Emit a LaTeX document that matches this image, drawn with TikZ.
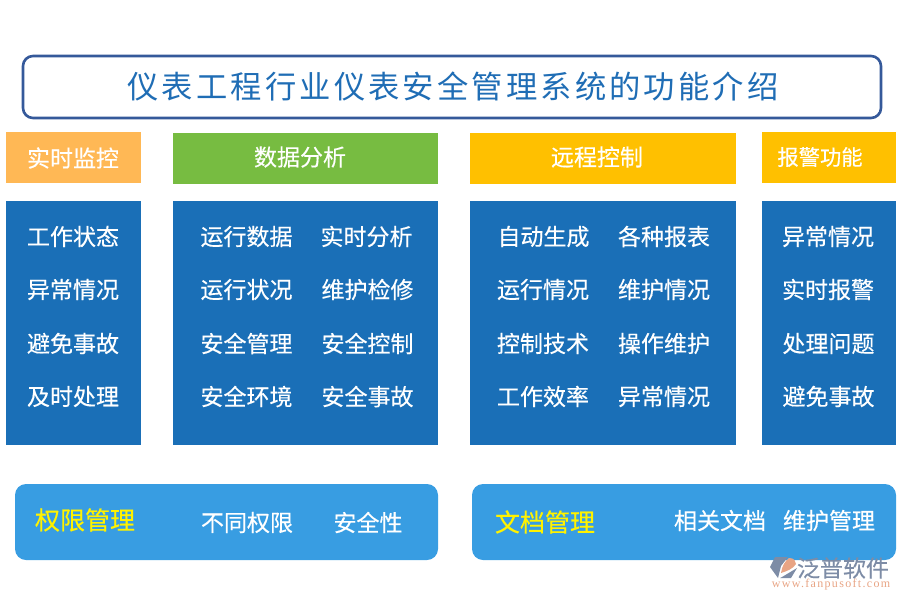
\documentclass[tikz,border=0pt]{standalone}
\usepackage{fontspec}
\setmainfont[FakeBold=0.35]{Noto Sans CJK SC}
\newfontfamily\plaincjk[FakeBold=0.3]{Noto Sans CJK SC}
\newfontfamily\titlecjk[LetterSpace=10]{Noto Sans CJK SC}
\newfontfamily\latinserif[LetterSpace=11]{Liberation Serif}
\definecolor{titleblue}{HTML}{1F6DB5}
\definecolor{frameblue}{HTML}{35599A}
\definecolor{panelblue}{HTML}{1A6FB7}
\definecolor{barblue}{HTML}{389DE2}
\definecolor{hdorange}{HTML}{FFB855}
\definecolor{hdgreen}{HTML}{77BC41}
\definecolor{hdyellow}{HTML}{FFC000}
\definecolor{logogrey}{HTML}{7D8CA6}
\definecolor{logoorange}{HTML}{E8A484}
\tikzset{
  px/.style={x=1pt,y=-1pt},
  panel/.style={fill=panelblue,draw=none},
  bar/.style={fill=barblue,draw=none,rounded corners=11pt},
  hdbox/.style={draw=none,text=white,font=\fontsize{23}{23}\selectfont},
  item/.style={text=white,inner sep=0pt,font=\fontsize{23}{23}\selectfont},
  baritem/.style={text=white,inner sep=0pt,font=\fontsize{23}{23}\selectfont},
  bartitle/.style={text=yellow,inner sep=0pt,font=\fontsize{25}{25}\selectfont},
}
\begin{document}
\begin{tikzpicture}[px]
\useasboundingbox (0,0) rectangle (900,600);
\draw[frameblue,line width=2.6pt,rounded corners=10pt,fill=white] (23,56) rectangle (881,118);
\node[text=titleblue,inner sep=0pt,font=\titlecjk\fontsize{31.3}{31.3}\selectfont] (title) at (453,86) {仪表工程行业仪表安全管理系统的功能介绍};

\path[fill=hdorange] (6,132) rectangle (141,183);
\path[fill=hdgreen] (173,133) rectangle (438,184);
\path[fill=hdyellow] (470,133) rectangle (736,184);
\path[fill=hdyellow] (762,132) rectangle (896,183);
\node[hdbox,inner sep=0pt] (h1) at (73,158) {实时监控};
\node[hdbox,inner sep=0pt] (h2) at (300,157) {数据分析};
\node[hdbox,inner sep=0pt] (h3) at (597,157) {远程控制};
\node[hdbox,inner sep=0pt,font=\fontsize{21.3}{21.3}\selectfont] (h4) at (820,157) {报警功能};

\path[panel] (6,201) rectangle (141,445);
\path[panel] (173,201) rectangle (438,445);
\path[panel] (470,201) rectangle (736,445);
\path[panel] (762,201) rectangle (896,445);

\node[item] (a1) at (73,236.5) {工作状态};
\node[item] (a2) at (73,289.5) {异常情况};
\node[item] (a3) at (73,343.5) {避免事故};
\node[item] (a4) at (73,396.5) {及时处理};

\node[item] (b1) at (246.5,236.5) {运行数据};
\node[item] (b2) at (246.5,289.5) {运行状况};
\node[item] (b3) at (246.5,343.5) {安全管理};
\node[item] (b4) at (246.5,396.5) {安全环境};
\node[item] (c1) at (366.5,236.5) {实时分析};
\node[item] (c2) at (367.5,289.5) {维护检修};
\node[item] (c3) at (367.5,343.5) {安全控制};
\node[item] (c4) at (367.5,396.5) {安全事故};

\node[item] (d1) at (543.5,236.5) {自动生成};
\node[item] (d2) at (543,289.5) {运行情况};
\node[item] (d3) at (543,343.5) {控制技术};
\node[item] (d4) at (543,396.5) {工作效率};
\node[item] (e1) at (664,236.5) {各种报表};
\node[item] (e2) at (664,289.5) {维护情况};
\node[item] (e3) at (664,343.5) {操作维护};
\node[item] (e4) at (664,396.5) {异常情况};

\node[item] (f1) at (828,236.5) {异常情况};
\node[item] (f2) at (828,289.5) {实时报警};
\node[item] (f3) at (828.5,343.5) {处理问题};
\node[item] (f4) at (828.5,396.5) {避免事故};

\path[bar] (15,484) rectangle (438,560);
\path[bar] (472,484) rectangle (896,560);
\node[bartitle] (p1) at (85,520) {权限管理};
\node[baritem] (p2) at (247,522.5) {不同权限};
\node[baritem] (p3) at (368,522.5) {安全性};
\node[bartitle] (q1) at (545,522) {文档管理};
\node[baritem] (q2) at (720,520.5) {相关文档};
\node[baritem] (q3) at (829,520.5) {维护管理};

% logo
\path[fill=logogrey] (775,557) -- (788,557) -- (781,566) -- (778,578) -- (770,567) -- cycle;
\path[fill=logoorange] (789,558) .. controls (794,558) and (796,561) .. (796,564) .. controls (793,569) and (787,571) .. (781,573) .. controls (782,566) and (785,561) .. (789,558) -- cycle;
\path[fill=logogrey] (782,577) -- (797,568) -- (791,578) -- (780,578) -- cycle;
\node[text=logogrey,inner sep=0pt,font=\plaincjk\fontsize{23}{23}\selectfont] (brand) at (843,568) {泛普软件};
\node[text=logoorange,inner sep=0pt,font=\latinserif\fontsize{12}{12}\selectfont] (url) at (831,585) {www.fanpusoft.com};
\end{tikzpicture}
\end{document}
